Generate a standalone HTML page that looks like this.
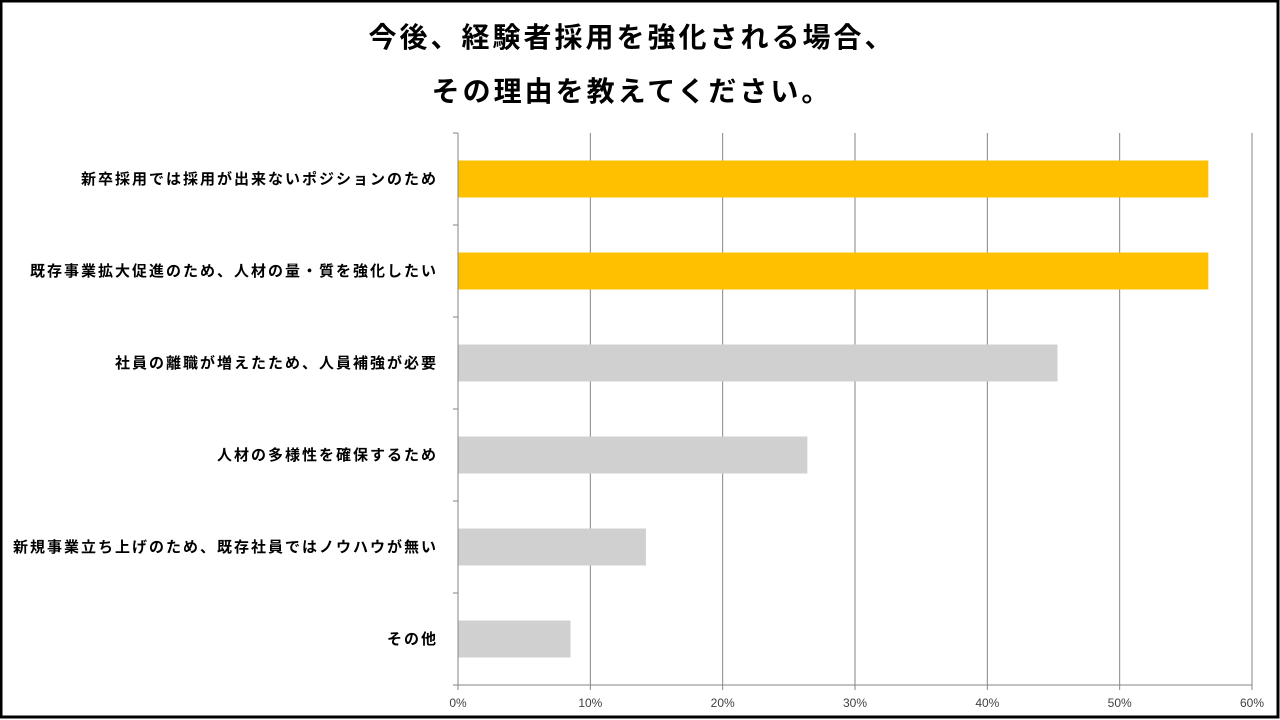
<!DOCTYPE html>
<html><head><meta charset="utf-8"><style>
html,body{margin:0;padding:0;background:#fff}
svg{display:block}
text{font-family:"Liberation Sans","Noto Sans CJK JP",sans-serif}
</style></head><body>
<svg id="chart" width="1280" height="720">
<rect x="1" y="1" width="1277" height="716" fill="#fff" stroke="#000" stroke-width="3"/>
<text x="632" y="47" text-anchor="middle" font-size="28" font-weight="bold" letter-spacing="3">今後、経験者採用を強化される場合、</text>
<text x="632" y="101" text-anchor="middle" font-size="28" font-weight="bold" letter-spacing="3">その理由を教えてください。</text>
<g id="grid"></g><g id="bars"></g><g id="axes"></g>
</svg>
<script>
const categories=["新卒採用では採用が出来ないポジションのため","既存事業拡大促進のため、人材の量・質を強化したい","社員の離職が増えたため、人員補強が必要","人材の多様性を確保するため","新規事業立ち上げのため、既存社員ではノウハウが無い","その他"];
const values=[56.7,56.7,45.3,26.4,14.2,8.5];
const highlight=[true,true,false,false,false,false];
const ticks=[0,10,20,30,40,50,60];
const tickLabels=["0%","10%","20%","30%","40%","50%","60%"];
const NS="http://www.w3.org/2000/svg";
const x0=458,x1=1252,yTop=133,yBot=685,maxV=60;
const xs=v=>x0+(v/maxV)*(x1-x0);
const band=(yBot-yTop)/categories.length;
function mk(tag,attrs,parent){const e=document.createElementNS(NS,tag);for(const k in attrs)e.setAttribute(k,attrs[k]);parent.appendChild(e);return e;}
const grid=document.getElementById('grid'),bars=document.getElementById('bars'),axes=document.getElementById('axes');
ticks.forEach((t,i)=>{
  if(t>0){const l=mk('line',{x1:xs(t),x2:xs(t),y1:yTop,y2:yBot,stroke:'#868686','stroke-width':1},grid);
  
  }
  const tk=mk('line',{x1:xs(t),x2:xs(t),y1:yBot,y2:yBot+5,stroke:'#868686'},axes);
  
  
  const tx=mk('text',{x:xs(t),y:707,'text-anchor':'middle','font-size':12,fill:'#404040'},axes);
  tx.textContent=tickLabels[i];
  
  
});
categories.forEach((c,i)=>{
  const cy=yTop+band*(i+0.5);
  const r=mk('rect',{x:x0,y:cy-18.5,width:xs(values[i])-x0,height:37,fill:highlight[i]?'#FFC000':'#D0D0D0'},bars);
  
  
  const lb=mk('text',{x:438,y:cy+5,'text-anchor':'end','font-size':15,'font-weight':'bold','letter-spacing':2,fill:'#000'},axes);
  lb.textContent=c;
  
  
});
for(let i=0;i<=categories.length;i++){
  const y=yTop+band*i;
  const t=mk('line',{x1:x0-5,x2:x0,y1:y,y2:y,stroke:'#868686'},axes);
  
  
}
const ya=mk('line',{x1:x0,x2:x0,y1:yTop,y2:yBot,stroke:'#868686'},axes);


const xa=mk('line',{x1:x0-5,x2:x1,y1:yBot,y2:yBot,stroke:'#868686'},axes);


</script>
</body></html>
